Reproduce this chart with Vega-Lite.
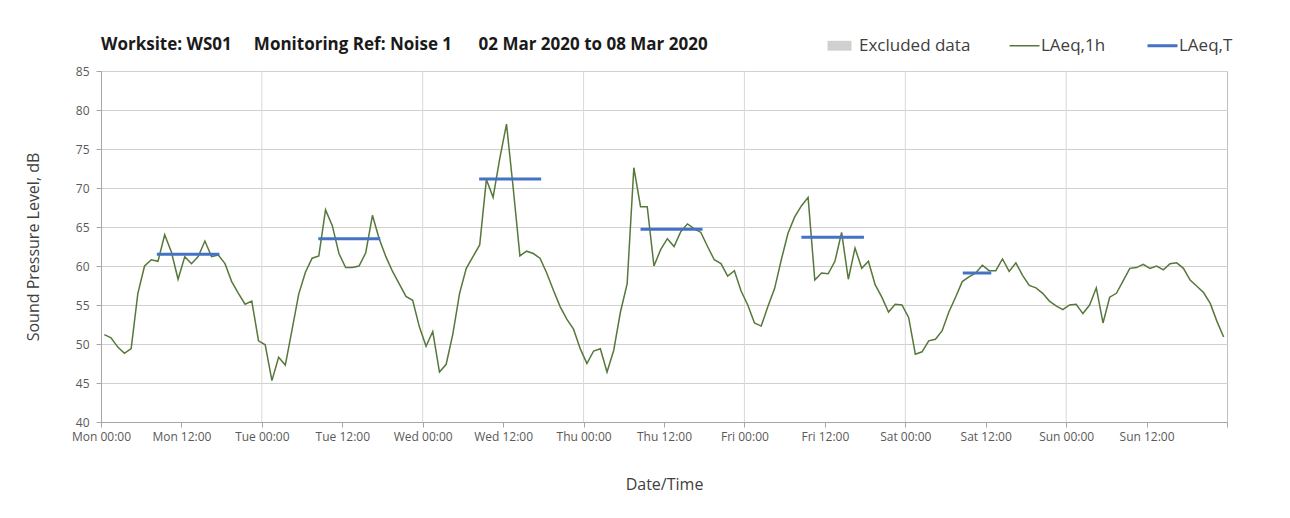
{
  "$schema": "https://vega.github.io/schema/vega-lite/v6.json",
  "autosize": "none",
  "width": 1126,
  "height": 351,
  "padding": {"left": 101, "top": 71, "right": 63, "bottom": 96},
  "background": "#ffffff",
  "config": {
    "font": "Open Sans",
    "view": {"stroke": "#bfbfbf", "strokeWidth": 1},
    "axis": {
      "labelFont": "Open Sans",
      "titleFont": "Open Sans",
      "labelColor": "#595959",
      "titleColor": "#404040",
      "labelFontSize": 12,
      "titleFontSize": 16,
      "titleFontWeight": "normal",
      "domainColor": "#a6a6a6",
      "tickColor": "#a6a6a6",
      "tickSize": 5
    }
  },
  "title": {
    "text": "Worksite: WS01\u00a0\u00a0\u00a0\u00a0 Monitoring Ref: Noise 1\u00a0\u00a0\u00a0\u00a0\u00a0 02 Mar 2020 to 08 Mar 2020",
    "anchor": "start",
    "frame": "group",
    "font": "Open Sans",
    "fontSize": 17,
    "fontWeight": "bold",
    "color": "#1a1a1a",
    "offset": 18,
    "dy": 35
  },
  "datasets": {
    "hourly": [
      {"h":0.5,"v":51.2},{"h":1.5,"v":50.8},{"h":2.5,"v":49.6},{"h":3.5,"v":48.8},{"h":4.5,"v":49.4},{"h":5.5,"v":56.5},{"h":6.5,"v":60.0},{"h":7.5,"v":60.8},{"h":8.5,"v":60.6},{"h":9.5,"v":64.0},{"h":10.5,"v":61.8},{"h":11.5,"v":58.3},{"h":12.5,"v":61.2},{"h":13.5,"v":60.3},{"h":14.5,"v":61.2},{"h":15.5,"v":63.2},{"h":16.5,"v":61.2},{"h":17.5,"v":61.4},{"h":18.5,"v":60.3},{"h":19.5,"v":58.0},{"h":20.5,"v":56.5},{"h":21.5,"v":55.1},{"h":22.5,"v":55.5},{"h":23.5,"v":50.4},
      {"h":24.5,"v":49.9},{"h":25.5,"v":45.3},{"h":26.5,"v":48.3},{"h":27.5,"v":47.3},{"h":28.5,"v":51.8},{"h":29.5,"v":56.4},{"h":30.5,"v":59.2},{"h":31.5,"v":61.0},{"h":32.5,"v":61.3},{"h":33.5,"v":67.2},{"h":34.5,"v":65.2},{"h":35.5,"v":61.6},{"h":36.5,"v":59.8},{"h":37.5,"v":59.8},{"h":38.5,"v":60.0},{"h":39.5,"v":61.7},{"h":40.5,"v":66.5},{"h":41.5,"v":63.5},{"h":42.5,"v":61.2},{"h":43.5,"v":59.3},{"h":44.5,"v":57.7},{"h":45.5,"v":56.1},{"h":46.5,"v":55.6},{"h":47.5,"v":52.2},
      {"h":48.5,"v":49.7},{"h":49.5,"v":51.6},{"h":50.5,"v":46.4},{"h":51.5,"v":47.4},{"h":52.5,"v":51.3},{"h":53.5,"v":56.5},{"h":54.5,"v":59.7},{"h":55.5,"v":61.2},{"h":56.5,"v":62.7},{"h":57.5,"v":71.1},{"h":58.5,"v":68.8},{"h":59.5,"v":73.8},{"h":60.5,"v":78.2},{"h":61.5,"v":70.0},{"h":62.5,"v":61.3},{"h":63.5,"v":61.9},{"h":64.5,"v":61.6},{"h":65.5,"v":61.0},{"h":66.5,"v":59.1},{"h":67.5,"v":56.9},{"h":68.5,"v":54.8},{"h":69.5,"v":53.2},{"h":70.5,"v":51.9},{"h":71.5,"v":49.4},
      {"h":72.5,"v":47.5},{"h":73.5,"v":49.1},{"h":74.5,"v":49.4},{"h":75.5,"v":46.4},{"h":76.5,"v":49.2},{"h":77.5,"v":54.1},{"h":78.5,"v":57.7},{"h":79.5,"v":72.6},{"h":80.5,"v":67.6},{"h":81.5,"v":67.6},{"h":82.5,"v":60.0},{"h":83.5,"v":62.1},{"h":84.5,"v":63.5},{"h":85.5,"v":62.5},{"h":86.5,"v":64.4},{"h":87.5,"v":65.4},{"h":88.5,"v":64.8},{"h":89.5,"v":64.3},{"h":90.5,"v":62.5},{"h":91.5,"v":60.8},{"h":92.5,"v":60.3},{"h":93.5,"v":58.7},{"h":94.5,"v":59.4},{"h":95.5,"v":56.8},
      {"h":96.5,"v":55.0},{"h":97.5,"v":52.7},{"h":98.5,"v":52.3},{"h":99.5,"v":54.8},{"h":100.5,"v":57.1},{"h":101.5,"v":60.8},{"h":102.5,"v":64.2},{"h":103.5,"v":66.3},{"h":104.5,"v":67.7},{"h":105.5,"v":68.8},{"h":106.5,"v":58.2},{"h":107.5,"v":59.1},{"h":108.5,"v":59.0},{"h":109.5,"v":60.6},{"h":110.5,"v":64.3},{"h":111.5,"v":58.3},{"h":112.5,"v":62.3},{"h":113.5,"v":59.7},{"h":114.5,"v":60.6},{"h":115.5,"v":57.6},{"h":116.5,"v":56.0},{"h":117.5,"v":54.1},{"h":118.5,"v":55.1},{"h":119.5,"v":55.0},
      {"h":120.5,"v":53.4},{"h":121.5,"v":48.7},{"h":122.5,"v":49.0},{"h":123.5,"v":50.4},{"h":124.5,"v":50.6},{"h":125.5,"v":51.7},{"h":126.5,"v":54.1},{"h":127.5,"v":56.0},{"h":128.5,"v":58.0},{"h":129.5,"v":58.6},{"h":130.5,"v":59.1},{"h":131.5,"v":60.1},{"h":132.5,"v":59.4},{"h":133.5,"v":59.4},{"h":134.5,"v":60.9},{"h":135.5,"v":59.3},{"h":136.5,"v":60.4},{"h":137.5,"v":58.8},{"h":138.5,"v":57.5},{"h":139.5,"v":57.2},{"h":140.5,"v":56.5},{"h":141.5,"v":55.5},{"h":142.5,"v":54.9},{"h":143.5,"v":54.4},
      {"h":144.5,"v":55.0},{"h":145.5,"v":55.1},{"h":146.5,"v":53.9},{"h":147.5,"v":55.0},{"h":148.5,"v":57.2},{"h":149.5,"v":52.7},{"h":150.5,"v":56.0},{"h":151.5,"v":56.5},{"h":152.5,"v":58.1},{"h":153.5,"v":59.7},{"h":154.5,"v":59.8},{"h":155.5,"v":60.2},{"h":156.5,"v":59.7},{"h":157.5,"v":60.0},{"h":158.5,"v":59.5},{"h":159.5,"v":60.3},{"h":160.5,"v":60.4},{"h":161.5,"v":59.7},{"h":162.5,"v":58.2},{"h":163.5,"v":57.4},{"h":164.5,"v":56.6},{"h":165.5,"v":55.2},{"h":166.5,"v":52.9},{"h":167.5,"v":50.9}
    ],
    "periods": [
      {"start":8.33,"end":17.67,"v":61.5,"s":"LAeq,T"},
      {"start":32.42,"end":41.67,"v":63.5,"s":"LAeq,T"},
      {"start":56.42,"end":65.67,"v":71.15,"s":"LAeq,T"},
      {"start":80.5,"end":89.75,"v":64.7,"s":"LAeq,T"},
      {"start":104.5,"end":113.83,"v":63.7,"s":"LAeq,T"},
      {"start":128.58,"end":132.83,"v":59.1,"s":"LAeq,T"}
    ],
    "days": [
      {"d":24},{"d":48},{"d":72},{"d":96},{"d":120},{"d":144}
    ]
  },
  "layer": [
    {
      "data": {"name": "days"},
      "mark": {"type": "rule", "color": "#d9d9d9", "strokeWidth": 1},
      "encoding": {
        "x": {
          "field": "d", "type": "quantitative", "title": "Date/Time",
          "scale": {"domain": [0, 168], "nice": false, "zero": false},
          "axis": {
            "values": [0, 12, 24, 36, 48, 60, 72, 84, 96, 108, 120, 132, 144, 156, 168],
            "labelExpr": "datum.value >= 168 ? '' : ['Mon','Tue','Wed','Thu','Fri','Sat','Sun'][floor(datum.value / 24)] + (datum.value % 24 == 0 ? ' 00:00' : ' 12:00')",
            "labelOverlap": false, "labelFlush": false, "labelPadding": 4, "titlePadding": 34, "grid": false
          }
        }
      }
    },
    {
      "data": {"name": "hourly"},
      "mark": {"type": "line", "strokeWidth": 1.5, "color": "#56783a"},
      "encoding": {
        "x": {
          "field": "h", "type": "quantitative", "title": "Date/Time",
          "scale": {"domain": [0, 168], "nice": false, "zero": false},
          "axis": {
            "values": [0, 12, 24, 36, 48, 60, 72, 84, 96, 108, 120, 132, 144, 156, 168],
            "labelExpr": "datum.value >= 168 ? '' : ['Mon','Tue','Wed','Thu','Fri','Sat','Sun'][floor(datum.value / 24)] + (datum.value % 24 == 0 ? ' 00:00' : ' 12:00')",
            "labelOverlap": false, "labelFlush": false, "labelPadding": 4, "titlePadding": 34, "grid": false
          }
        },
        "y": {
          "field": "v", "type": "quantitative", "title": "Sound Pressure Level, dB",
          "scale": {"domain": [40, 85], "nice": false, "zero": false},
          "axis": {"values": [40, 45, 50, 55, 60, 65, 70, 75, 80, 85], "grid": true, "gridColor": "#d0d0d0", "labelPadding": 7, "titlePadding": 34}
        }
      }
    },
    {
      "data": {"name": "periods"},
      "mark": {"type": "rule", "strokeWidth": 3},
      "encoding": {
        "x": {
          "field": "start", "type": "quantitative", "title": "Date/Time",
          "scale": {"domain": [0, 168], "nice": false, "zero": false},
          "axis": {
            "values": [0, 12, 24, 36, 48, 60, 72, 84, 96, 108, 120, 132, 144, 156, 168],
            "labelExpr": "datum.value >= 168 ? '' : ['Mon','Tue','Wed','Thu','Fri','Sat','Sun'][floor(datum.value / 24)] + (datum.value % 24 == 0 ? ' 00:00' : ' 12:00')",
            "labelOverlap": false, "labelFlush": false, "labelPadding": 4, "titlePadding": 34, "grid": false
          }
        },
        "x2": {"field": "end"},
        "y": {
          "field": "v", "type": "quantitative", "title": "Sound Pressure Level, dB",
          "scale": {"domain": [40, 85], "nice": false, "zero": false},
          "axis": {"values": [40, 45, 50, 55, 60, 65, 70, 75, 80, 85], "grid": true, "gridColor": "#d0d0d0", "labelPadding": 7, "titlePadding": 34}
        },
        "color": {
          "field": "s",
          "type": "nominal",
          "scale": {"domain": ["Excluded data", "LAeq,1h", "LAeq,T"], "range": ["#d0d0d0", "#56783a", "#4472c4"]},
          "legend": {
            "title": null,
            "orient": "none",
            "legendX": 733,
            "legendY": -34,
            "direction": "horizontal",
            "symbolSize": 900,
            "symbolStrokeWidth": 2.5,
            "labelFont": "Open Sans",
            "labelFontSize": 17,
            "labelColor": "#404040",
            "labelOffset": 8,
            "columnPadding": 35,
            "padding": 0,
            "encode": {
              "symbols": {
                "update": {
                  "shape": {"signal": "datum.label === 'Excluded data' ? 'M-1,-0.33H0.6V0.33H-1Z' : 'stroke'"},
                  "fill": {"signal": "datum.label === 'Excluded data' ? '#d0d0d0' : 'transparent'"},
                  "strokeWidth": {"signal": "datum.label === 'Excluded data' ? 0 : (datum.label === 'LAeq,T' ? 3 : 1.5)"}
                }
              }
            }
          }
        }
      }
    }
  ]
}
